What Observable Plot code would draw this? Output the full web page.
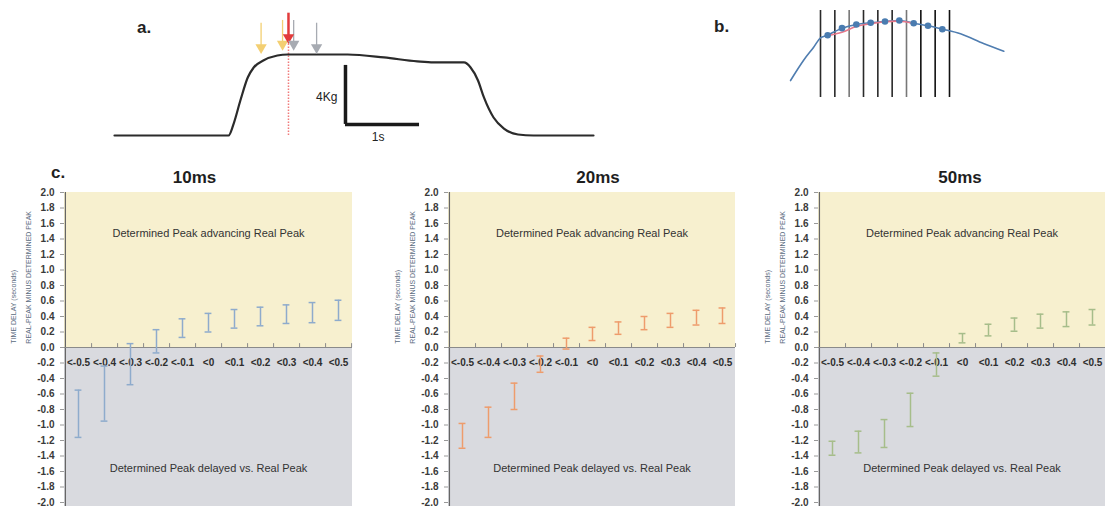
<!DOCTYPE html>
<html><head><meta charset="utf-8">
<script src="https://cdn.jsdelivr.net/npm/d3@7"></script>
<script src="https://cdn.jsdelivr.net/npm/@observablehq/plot@0.6"></script>
<style>
body{margin:0;background:#fff;font-family:"Liberation Sans",Arial,sans-serif;}
#wrap{position:relative;width:1105px;height:506px;overflow:hidden;}
.lbl{position:absolute;font-weight:bold;font-size:17px;color:#222;line-height:1;}
</style></head>
<body><div id="wrap">
<div class="lbl" style="left:137px;top:19px">a.</div>
<div class="lbl" style="left:714px;top:18px">b.</div>
<div class="lbl" style="left:51px;top:164px">c.</div>
</div>
<script>
// ---- Panel a: force trace (seconds, kg) ----
const traceT  = [0,1.54,1.61,1.70,1.80,1.88,2.01,2.20,2.34,2.74,3.15,3.64,4.09,4.31,4.72,4.81,4.91,4.99,5.12,5.26,5.45,5.66,6.47];
const traceKg = [0,0,0.81,2.37,3.93,4.61,5.08,5.42,5.49,5.49,5.49,5.29,5.02,4.95,4.95,4.61,3.73,2.58,1.22,0.47,0.07,0,0];
const arrowT      = [1.98,2.27,2.35,2.42,2.73];
const arrowTop    = [7.61,7.80,8.29,7.80,7.61];
const arrowBottom = [5.76,5.99,6.44,5.99,5.76];
const arrowColor  = ["#f3cf72","#f3cf72","#e23b3b","#a7abb2","#a7abb2"];
const realPeakT = 2.35, realPeakTop = 6.44;
const scaleBarT = [3.12,4.12], scaleBarKg = [0.75,4.75];

// ---- Panel b: sampling windows ----
const curveW = [-2.09,-1.19,-0.49,0,0.47,1.51,2.51,3.49,4.54,5.53,6.51,7.52,8.53,9.77,11.37,12.79];
const curveF = [0.195,0.425,0.575,0.686,0.716,0.797,0.839,0.859,0.874,0.885,0.854,0.824,0.785,0.732,0.621,0.532];
const pointW = [0.5,1.5,2.5,3.5,4.5,5.5,6.5,7.5,8.5];
const pointF = [0.716,0.797,0.839,0.859,0.874,0.885,0.854,0.824,0.785];
const fitW = [0.5,1.5,2.5,3.5,4.5,5.5,6.5];
const fitF = [0.713,0.751,0.816,0.847,0.870,0.877,0.854];
const windows = [0,1,2,3,4,5,6,7,8,9];
const windowColor = ["#2a2a2a","#2a2a2a","#777","#2a2a2a","#2a2a2a","#2a2a2a","#777","#111","#111","#111"];

// ---- Panel c: error bars ----
const cats = ["<-0.5","<-0.4","<-0.3","<-0.2","<-0.1","<0","<0.1","<0.2","<0.3","<0.4","<0.5"];
const lo10 = [-1.16,-0.95,-0.48,-0.07,0.13,0.20,0.25,0.28,0.31,0.32,0.35];
const hi10 = [-0.55,-0.24,0.05,0.23,0.37,0.44,0.49,0.52,0.55,0.58,0.61];
const lo20 = [-1.30,-1.16,-0.80,-0.32,-0.02,0.09,0.17,0.23,0.26,0.29,0.31];
const hi20 = [-0.98,-0.77,-0.46,-0.11,0.12,0.26,0.33,0.40,0.44,0.48,0.51];
const lo50 = [-1.39,-1.36,-1.29,-1.02,-0.37,0.06,0.15,0.21,0.25,0.27,0.29];
const hi50 = [-1.21,-1.08,-0.93,-0.59,-0.07,0.18,0.30,0.38,0.43,0.46,0.49];
const yTicks = d3.range(-20,21,2).map(i=>i/10);
const topText = "Determined Peak advancing Real Peak";
const bottomText = "Determined Peak delayed vs. Real Peak";
const yTitle1 = "TIME DELAY (seconds)";
const yTitle2 = "REAL-PEAK MINUS DETERMINED PEAK";

const FONT = '"Liberation Sans", Arial, sans-serif';
const wrap = document.getElementById("wrap");
function place(svg, left, top){ svg.style.position="absolute"; svg.style.left=left+"px"; svg.style.top=top+"px"; svg.style.background="transparent"; svg.style.overflow="visible"; wrap.appendChild(svg); }

// Panel a
const trace = traceT.map((t,i)=>({t, kg: traceKg[i]}));
const arrows = arrowT.map((t,i)=>({t, top: arrowTop[i], bottom: arrowBottom[i], c: arrowColor[i], w: i===2?2.5:1.3}));
const pa = Plot.plot({
  width: 620, height: 150,
  x: {domain:[0,6.47], range:[114,593], axis:null},
  y: {domain:[0,5.49], range:[135,54], axis:null},
  style:{fontFamily:FONT, background:"transparent"},
  marks: [
    Plot.ruleX([realPeakT], {x: d=>d, y1: ()=>0, y2: ()=>realPeakTop, stroke:"#f07a7a", strokeWidth:1.5, strokeDasharray:"1.5,1.5"}),
    Plot.line(trace, {x:"t", y:"kg", stroke:"#2b2b2b", strokeWidth:2.2, curve:"monotone-x"}),
    Plot.ruleX(arrows, {x:"t", y1:"top", y2:"bottom", stroke:"c", strokeWidth:"w"}),
    Plot.dot(arrows, {x:"t", y:"bottom", symbol:"triangle", rotate:180, r:4.2, dy:-3, fill:"c", stroke:"none"}),
    Plot.ruleX([scaleBarT[0]], {x: d=>d, y1: ()=>scaleBarKg[0], y2: ()=>scaleBarKg[1], stroke:"#1a1a1a", strokeWidth:3.5}),
    Plot.ruleY([scaleBarKg[0]], {y: d=>d, x1: ()=>scaleBarT[0], x2: ()=>scaleBarT[1], stroke:"#1a1a1a", strokeWidth:3.5}),
    Plot.text(["4Kg"], {x: ()=>3.01, y: ()=>2.58, textAnchor:"end", fontSize:12, fill:"#222"}),
    Plot.text(["1s"], {x: ()=>3.56, y: ()=>-0.14, fontSize:12, fill:"#222"})
  ]
});
place(pa, 0, 0);

// Panel b
const curve = curveW.map((w,i)=>({w, f: curveF[i]}));
const pts = pointW.map((w,i)=>({w, f: pointF[i]}));
const fit = fitW.map((w,i)=>({w, f: fitF[i]}));
const wins = windows.map((w,i)=>({w, c: windowColor[i]}));
const pb = Plot.plot({
  width: 320, height: 110,
  x: {domain:[0,9], range:[120,249], axis:null},
  y: {domain:[0,1], range:[97,10], axis:null},
  style:{fontFamily:FONT, background:"transparent"},
  marks: [
    Plot.ruleX(wins, {x:"w", y1: ()=>0, y2: ()=>1, stroke:"c", strokeWidth:1.6}),
    Plot.line(curve, {x:"w", y:"f", stroke:"#4f7db0", strokeWidth:1.6, curve:"catmull-rom"}),
    Plot.line(fit, {x:"w", y:"f", stroke:"#e8788a", strokeWidth:1.6, curve:"catmull-rom"}),
    Plot.dot(pts, {x:"w", y:"f", r:3.3, fill:"#4a7cb0", stroke:"none"})
  ]
});
place(pb, 700, 0);

// Panel c charts
function chart(title, lo, hi, color, width, marginRight, titleDx){
  const plotW = width - 64 - marginRight;
  const bw = plotW / cats.length;
  const rows = cats.map((c,i)=>({cat:c, lo: lo[i], hi: hi[i]}));
  const capInset = bw/2 - 3.5;
  return Plot.plot({
    width, height: 346, marginTop: 32, marginBottom: 4, marginLeft: 64, marginRight,
    x: {type:"band", domain: cats, padding: 0, axis: null},
    y: {domain:[-2,2], axis: null},
    style:{fontFamily:FONT, background:"transparent"},
    marks: [
      Plot.rect([{a:0,b:2}], {y1:"a", y2:"b", fill:"#f7f0cf"}),
      Plot.rect([{a:-2.06,b:0}], {y1:"a", y2:"b", fill:"#d9dadf"}),
      Plot.axisY({ticks: yTicks, tickFormat: d=>(Math.abs(d)<1e-9?0:d).toFixed(1), tickSize:4, tickPadding:6, fontSize:10, fontWeight:"bold", fill:"#3a3a3a", stroke:"#999"}),
      Plot.ruleX([cats[0]], {x: d=>d, dx: -bw/2, y1: ()=>-2.06, y2: ()=>2, stroke:"#666", strokeWidth:1.2}),
      Plot.ruleY([0], {stroke:"#8a8a8a", strokeWidth:1}),
      Plot.ruleX(cats, {x: d=>d, dx: bw/2, y1: ()=>0, y2: ()=>0.05, stroke:"#8a8a8a"}),
      Plot.text(cats, {x: d=>d, y: ()=>0, dy: 15, fontSize:10, fontWeight:"bold", fill:"#2e2e2e"}),
      Plot.ruleX(rows, {x:"cat", y1:"lo", y2:"hi", stroke: color, strokeWidth:1.5}),
      Plot.tickY(rows, {x:"cat", y:"lo", stroke: color, strokeWidth:1.5, insetLeft: capInset, insetRight: capInset}),
      Plot.tickY(rows, {x:"cat", y:"hi", stroke: color, strokeWidth:1.5, insetLeft: capInset, insetRight: capInset}),
      Plot.text([topText], {y: ()=>1.47, fontSize:11, fill:"#333"}),
      Plot.text([bottomText], {y: ()=>-1.56, fontSize:11, fill:"#333"}),
      Plot.text([title], {frameAnchor:"top", lineAnchor:"middle", dy:-15, dx: titleDx, fontSize:17, fontWeight:"bold", fill:"#1e1e1e"}),
      Plot.text([yTitle1], {frameAnchor:"left", y: ()=>0.05, dx:-51, rotate:-90, fontSize:7, fill:"#5b6b80"}),
      Plot.text([yTitle2], {frameAnchor:"left", y: ()=>0.05, dx:-36, rotate:-90, fontSize:7, fill:"#5b6b80"})
    ]
  });
}
place(chart("10ms", lo10, hi10, "#8eabcc", 368, 16, -14), 0, 160);
place(chart("20ms", lo20, hi20, "#ee9c6c", 368, 17, 6), 384, 160);
place(chart("50ms", lo50, hi50, "#a6bd8a", 351, 0, -2), 754, 160);
</script>
</body></html>
